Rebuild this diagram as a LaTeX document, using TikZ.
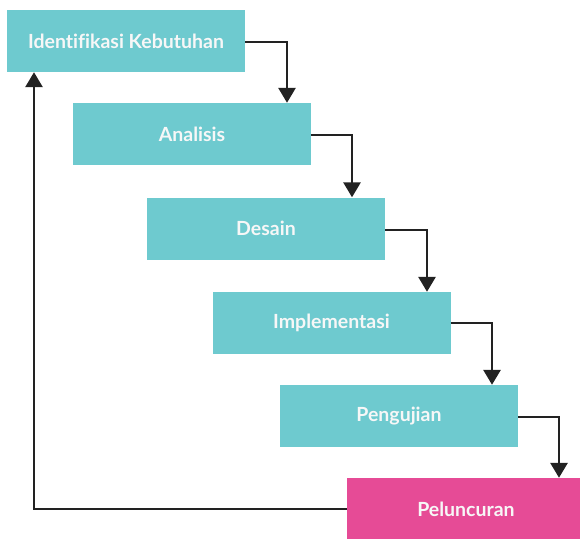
\documentclass[tikz,border=0pt]{standalone}
\usepackage{fontspec}
\setmainfont{Lato}[UprightFont=* Bold, Ligatures=NoCommon]
\usetikzlibrary{arrows.meta}
\definecolor{stepteal}{RGB}{110,202,207}
\definecolor{steppink}{RGB}{230,75,150}
\definecolor{flowline}{RGB}{34,34,34}
\begin{document}
\begin{tikzpicture}[x=1pt,y=-1pt,
  phase/.style={fill=stepteal, draw=none, minimum width=238pt, minimum height=62pt,
    inner sep=0pt, text=white!97!black, font=\fontsize{19.5}{22}\selectfont},
  launch/.style={phase, fill=steppink},
  flow/.style={draw=flowline, line width=2.9pt,
    -{Triangle[width=17pt,length=15pt]}}]
\useasboundingbox (0,0) rectangle (580,538);
\begin{scope}
\clip (0,0) rectangle (580,538);
\node[phase]  (ident)  at (126,41)    {Identifikasi Kebutuhan};
\node[phase]  (anal)   at (192,134)   {Analisis};
\node[phase]  (desain) at (266,228.5) {Desain};
\node[phase]  (impl)   at (331.5,323) {Implementasi};
\node[phase]  (uji)    at (399,416)   {Pengujian};
\node[launch] (luncur) at (466,509)   {Peluncuran};
\end{scope}
% cascade connectors
\draw[flow] (ident.east |- 0,42)    -| (287,0 |- anal.north);
\draw[flow] (anal.east |- 0,135)    -| (352,0 |- desain.north);
\draw[flow] (desain.east |- 0,230)  -| (427,0 |- impl.north);
\draw[flow] (impl.east |- 0,323)    -| (492,0 |- uji.north);
\draw[flow] (uji.east |- 0,417)     -| (559,0 |- luncur.north);
% return loop
\draw[flow] (luncur.west |- 0,509)  -| (34,0 |- ident.south);
\end{tikzpicture}
\end{document}
